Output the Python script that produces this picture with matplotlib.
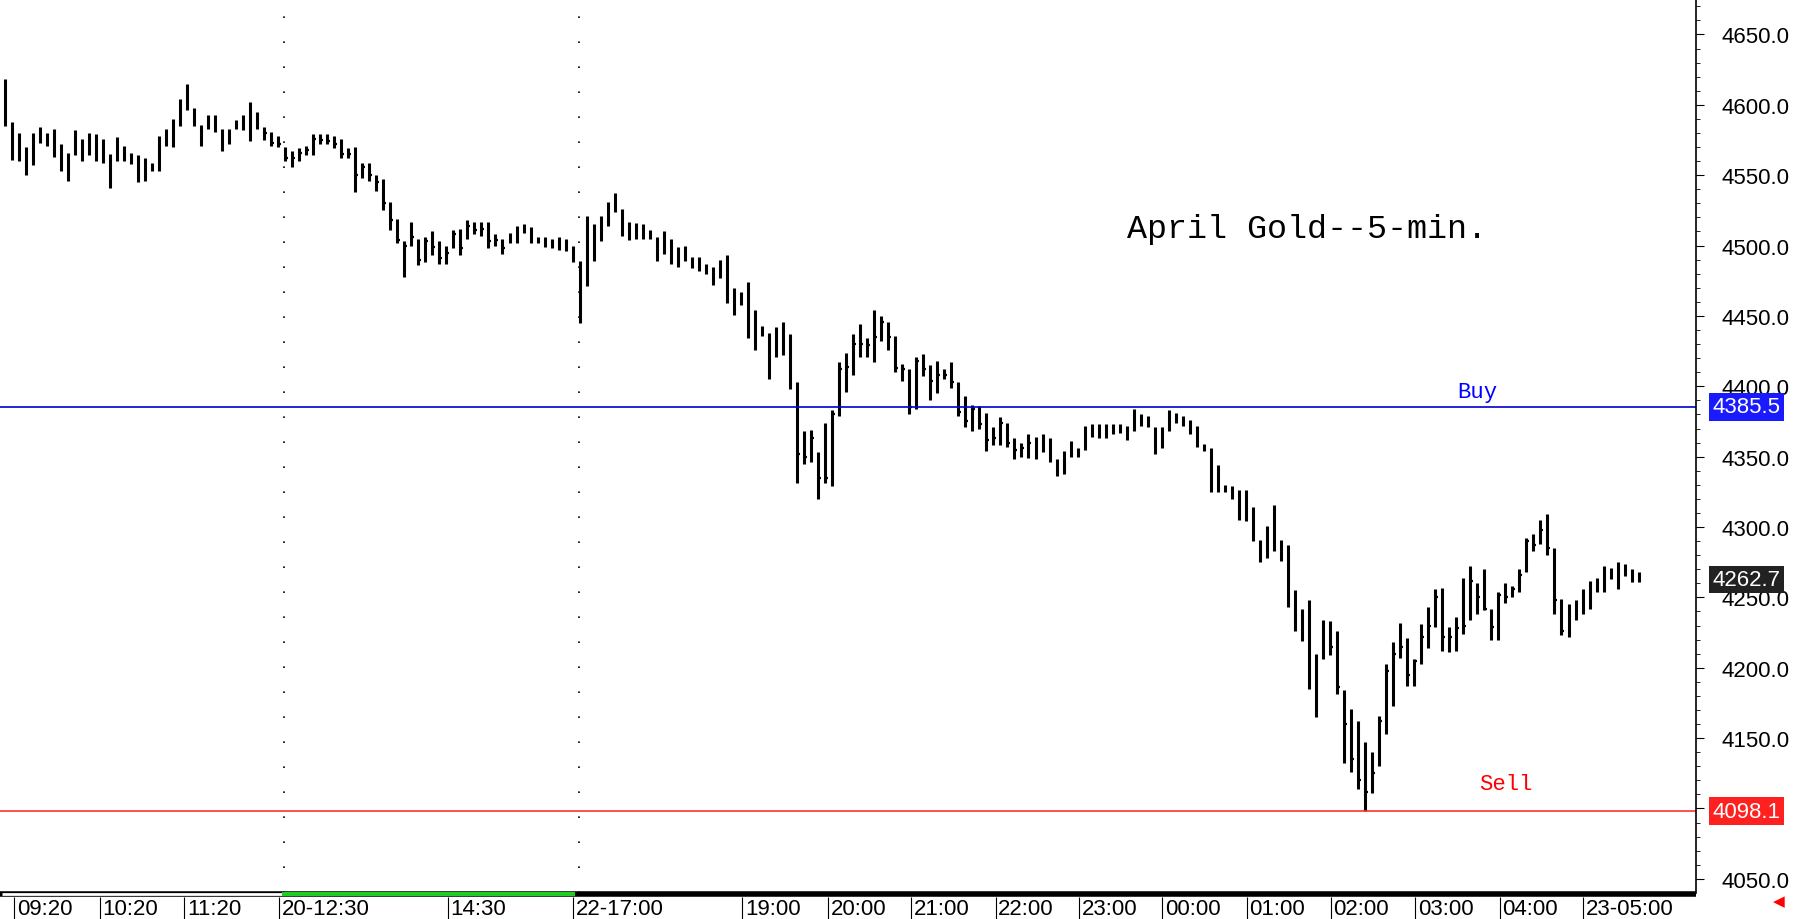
import matplotlib
matplotlib.use('Agg')
import matplotlib.pyplot as plt
import numpy as np

# 5分钟K线数据 (high / low / close)
highs = [4618, 4588, 4580, 4570, 4580, 4584, 4580, 4583, 4572, 4566, 4582, 4576, 4580, 4579, 4576, 4565, 4577, 4571, 4566, 4564,
         4562, 4559, 4578, 4583, 4590, 4604, 4615, 4598, 4586, 4593, 4593, 4583, 4583, 4589, 4593, 4602, 4595, 4584, 4581, 4578,
         4570, 4567, 4569, 4571, 4579, 4579, 4579, 4578, 4576, 4569, 4570, 4559, 4559, 4550, 4547, 4531, 4519, 4503, 4517, 4505,
         4506, 4510, 4503, 4500, 4511, 4512, 4518, 4517, 4517, 4517, 4508, 4505, 4509, 4514, 4515, 4513, 4506, 4506, 4505, 4506,
         4505, 4500, 4489, 4521, 4515, 4521, 4531, 4537, 4526, 4517, 4516, 4515, 4511, 4506, 4510, 4505, 4499, 4500, 4492, 4492,
         4487, 4485, 4490, 4493, 4470, 4467, 4474, 4454, 4443, 4438, 4442, 4446, 4437, 4403, 4368, 4369, 4353, 4374, 4383, 4417,
         4424, 4437, 4444, 4434, 4454, 4450, 4446, 4436, 4416, 4412, 4421, 4423, 4415, 4418, 4412, 4417, 4403, 4393, 4387, 4386,
         4381, 4371, 4378, 4374, 4363, 4360, 4366, 4364, 4366, 4363, 4348, 4354, 4361, 4356, 4372, 4373, 4373, 4373, 4373, 4373,
         4372, 4384, 4380, 4379, 4371, 4371, 4383, 4381, 4379, 4376, 4372, 4359, 4356, 4344, 4330, 4329, 4326, 4326, 4314, 4291,
         4301, 4316, 4291, 4287, 4255, 4242, 4248, 4210, 4234, 4233, 4226, 4184, 4171, 4162, 4147, 4140, 4166, 4203, 4218, 4232,
         4221, 4206, 4231, 4243, 4256, 4257, 4229, 4236, 4264, 4272, 4260, 4270, 4242, 4254, 4260, 4258, 4270, 4292, 4295, 4305,
         4309, 4285, 4249, 4245, 4248, 4256, 4262, 4264, 4272, 4271, 4275, 4274, 4270, 4268]
lows = [4585, 4561, 4560, 4550, 4557, 4573, 4571, 4563, 4553, 4546, 4564, 4560, 4564, 4560, 4559, 4541, 4560, 4560, 4558, 4545,
        4546, 4553, 4553, 4571, 4570, 4585, 4596, 4585, 4571, 4583, 4581, 4567, 4572, 4583, 4582, 4574, 4583, 4575, 4571, 4570,
        4560, 4556, 4560, 4564, 4564, 4572, 4572, 4569, 4562, 4562, 4538, 4548, 4546, 4539, 4525, 4511, 4502, 4478, 4500, 4486,
        4488, 4493, 4487, 4487, 4498, 4493, 4505, 4508, 4507, 4498, 4500, 4494, 4502, 4502, 4509, 4502, 4502, 4499, 4498, 4497,
        4496, 4488, 4445, 4471, 4489, 4503, 4514, 4524, 4507, 4504, 4505, 4505, 4505, 4489, 4494, 4487, 4485, 4489, 4484, 4482,
        4480, 4472, 4477, 4459, 4451, 4458, 4434, 4426, 4436, 4405, 4421, 4422, 4398, 4331, 4345, 4346, 4320, 4331, 4329, 4379,
        4396, 4408, 4421, 4421, 4417, 4432, 4426, 4410, 4404, 4380, 4384, 4407, 4390, 4395, 4405, 4399, 4379, 4371, 4368, 4370,
        4354, 4358, 4358, 4357, 4348, 4350, 4349, 4348, 4353, 4346, 4336, 4338, 4350, 4350, 4355, 4364, 4363, 4363, 4366, 4367,
        4362, 4368, 4372, 4371, 4352, 4356, 4368, 4374, 4372, 4366, 4357, 4354, 4325, 4325, 4325, 4320, 4305, 4304, 4290, 4275,
        4278, 4283, 4276, 4243, 4226, 4219, 4185, 4165, 4206, 4209, 4181, 4132, 4126, 4114, 4098, 4111, 4130, 4153, 4173, 4207,
        4187, 4187, 4203, 4214, 4229, 4212, 4211, 4212, 4224, 4234, 4238, 4241, 4220, 4220, 4246, 4250, 4254, 4268, 4283, 4288,
        4280, 4238, 4223, 4222, 4234, 4238, 4242, 4254, 4254, 4263, 4256, 4265, 4261, 4261]
closes = [4588, 4566, 4575, 4556, 4575, 4578, 4576, 4566, 4560, 4555, 4568, 4564, 4572, 4565, 4562, 4563, 4573, 4562, 4560, 4548,
          4548, 4556, 4574, 4575, 4588, 4600, 4598, 4588, 4574, 4590, 4586, 4570, 4580, 4586, 4590, 4584, 4585, 4580, 4573, 4572,
          4562, 4562, 4566, 4568, 4576, 4575, 4574, 4572, 4565, 4565, 4550, 4556, 4550, 4545, 4530, 4518, 4504, 4500, 4506, 4490,
          4503, 4499, 4491, 4495, 4508, 4498, 4514, 4511, 4512, 4503, 4504, 4498, 4505, 4512, 4511, 4506, 4504, 4503, 4500, 4503,
          4499, 4492, 4448, 4515, 4506, 4516, 4528, 4530, 4512, 4507, 4510, 4508, 4508, 4496, 4505, 4492, 4490, 4494, 4486, 4486,
          4484, 4476, 4488, 4462, 4460, 4460, 4448, 4440, 4441, 4430, 4428, 4430, 4400, 4352, 4350, 4363, 4335, 4335, 4380, 4412,
          4414, 4430, 4430, 4429, 4435, 4446, 4435, 4413, 4412, 4385, 4418, 4412, 4404, 4408, 4408, 4403, 4382, 4375, 4384, 4373,
          4362, 4363, 4374, 4360, 4355, 4356, 4360, 4352, 4355, 4350, 4342, 4352, 4358, 4352, 4368, 4367, 4366, 4368, 4370, 4369,
          4366, 4380, 4376, 4374, 4355, 4370, 4378, 4376, 4374, 4368, 4360, 4356, 4328, 4330, 4327, 4322, 4308, 4322, 4296, 4285,
          4298, 4287, 4280, 4250, 4240, 4222, 4190, 4200, 4225, 4215, 4186, 4160, 4135, 4120, 4112, 4125, 4162, 4198, 4210, 4215,
          4195, 4205, 4222, 4230, 4250, 4222, 4222, 4228, 4230, 4262, 4250, 4242, 4229, 4252, 4250, 4256, 4266, 4290, 4287, 4298,
          4285, 4248, 4226, 4236, 4237, 4250, 4255, 4258, 4266, 4267, 4268, 4268, 4262, 4262.7]

# 时间轴标签 (按K线序号)
time_ticks = [2.8, 15.0, 27.0, 40.5, 64.6, 82.5, 106.6, 118.8, 130.7, 142.7, 154.6, 166.5, 178.5, 190.5, 202.5, 214.6, 226.5]
time_labels = ['09:20', '10:20', '11:20', '20-12:30', '14:30', '22-17:00', '19:00', '20:00', '21:00', '22:00',
               '23:00', '00:00', '01:00', '02:00', '03:00', '04:00', '23-05:00']
session_breaks = [40.9, 82.9]
price_ticks = [4050, 4100, 4150, 4200, 4250, 4300, 4350, 4400, 4450, 4500, 4550, 4600, 4650]
buy_level = 4385.5
sell_level = 4098.1
last_price = 4262.7

FONT = ['Liberation Sans Narrow', 'Liberation Sans', 'DejaVu Sans']
MONO = ['Liberation Mono', 'DejaVu Sans Mono']

fig = plt.figure(figsize=(17.97, 9.20), dpi=100)
W = 1480 / 1568
ax = fig.add_axes([0, 1 - 780 / 803, W, 780 / 803])
tax = fig.add_axes([0, 0, W, 1 - 780 / 803])

x = np.arange(1, len(highs) + 1)
ax.vlines(x, lows, highs, color='black', linewidth=2.2)
ax.hlines(closes, x, x + 0.35, color='black', linewidth=1.6)

ax.set_xlim(0.35, 242.2)
ax.set_ylim(4040.2, 4675.2)

# 会话分隔点线
for b in session_breaks:
    ax.axvline(b, color='black', linestyle=(0, (1, 14)), linewidth=1.2)

ax.axhline(buy_level, color='#0000cc', linewidth=1.2)
ax.axhline(sell_level, color='#ff3030', linewidth=1.2)
ax.text(211, buy_level + 3, 'Buy', color='blue', fontsize=16, family=MONO, ha='center', va='bottom')
ax.text(215, 4110, 'Sell', color='red', fontsize=16, family=MONO, ha='center', va='bottom')
ax.text(161, 4512, 'April Gold--5-min.', fontsize=24, family=MONO, ha='left', va='center')

# 右侧价格轴
ax.yaxis.tick_right()
for s in ['top', 'left', 'bottom']:
    ax.spines[s].set_visible(False)
ax.spines['right'].set_linewidth(1.2)
ax.set_yticks(price_ticks)
ax.set_yticklabels(['' if p == 4100 else f'{p:.1f}' for p in price_ticks], family=FONT, fontsize=16)
ax.set_yticks(np.arange(4050, 4680, 10), minor=True)
ax.tick_params(axis='y', which='major', length=6, pad=12)
ax.tick_params(axis='y', which='minor', length=3)
ax.set_xticks([])

for lvl, bg in [(buy_level, '#1a1aff'), (last_price, '#222222'), (sell_level, '#ff2020')]:
    ax.annotate(f'{lvl:.1f}', xy=(1, lvl), xycoords=('axes fraction', 'data'), xytext=(12, 0),
                textcoords='offset points', ha='left', va='center', color='white', fontsize=16, family=FONT,
                bbox=dict(boxstyle='square,pad=0.15', fc=bg, ec='none'), annotation_clip=False, zorder=5)

# 底部时间轴
tax.set_xlim(ax.get_xlim())
tax.set_ylim(0, 1)
tax.axis('off')
tax.hlines(0.95, 0.35, 242.2, color='black', linewidth=4, clip_on=False)
tax.hlines(0.95, 0.6, 40.6, color='white', linewidth=2, clip_on=False)
tax.hlines(0.95, 40.6, 82.3, color='#22cc22', linewidth=3, clip_on=False)
for t, lab in zip(time_ticks, time_labels):
    tax.vlines(t - 0.4, 0, 0.85, color='black', linewidth=0.8)
    tax.text(t, 0.38, lab, ha='left', va='center', fontsize=16, family=FONT)
fig.text(0.993, 0.012, '\u25c0', color='red', fontsize=11, ha='right', va='bottom')

fig.savefig('out.png', dpi=100, facecolor='white')
